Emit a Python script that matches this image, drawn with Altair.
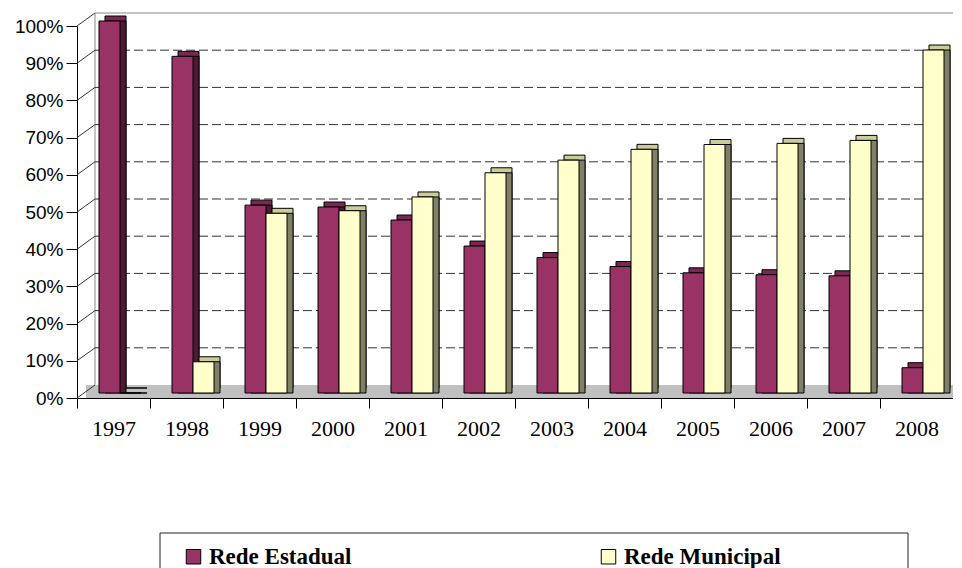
import altair as alt
import pandas as pd

years = ["1997", "1998", "1999", "2000", "2001", "2002", "2003", "2004", "2005", "2006", "2007", "2008"]
estadual = [1.00, 0.905, 0.505, 0.50, 0.465, 0.395, 0.364, 0.34, 0.323, 0.318, 0.315, 0.068]
municipal = [0.0, 0.084, 0.483, 0.49, 0.527, 0.592, 0.626, 0.655, 0.668, 0.671, 0.679, 0.922]
series = ["Rede Estadual", "Rede Municipal"]
yticks = [0, 0.1, 0.2, 0.3, 0.4, 0.5, 0.6, 0.7, 0.8, 0.9, 1.0]

front_colors = ["#993366", "#FFFFCC"]
top_colors = ["#7A2852", "#CCCC99"]
side_colors = ["#4D1A33", "#808066"]

W, H = 876, 372
DX, DY = 6, -5          # bar depth
BY = -5                 # bars sit mid-depth
WALL_X, WALL_Y = 18, -13

rows = []
for i, y in enumerate(years):
    rows.append({"year": y, "serie": series[0], "value": estadual[i]})
    rows.append({"year": y, "serie": series[1], "value": municipal[i]})
df = pd.DataFrame(rows)
tick_df = pd.DataFrame({"v": yticks})
grid_df = pd.DataFrame({"v": yticks[1:-1]})
top_df = pd.DataFrame({"v": [1.0]})
one = pd.DataFrame({"a": [0]})

xenc = alt.X("year:N", sort=years, title=None,
             scale=alt.Scale(paddingInner=0, paddingOuter=0),
             axis=alt.Axis(labelAngle=0, tickBand="extent", tickSize=10, labelPadding=10,
                           grid=False, domainColor="black", tickColor="black",
                           labelFont="Liberation Serif", labelFontSize=22))
yscale = alt.Scale(domain=[0, 1])
yaxis = alt.Axis(values=yticks, format=".0%", tickSize=11, labelPadding=3,
                 grid=False, domainColor="black", tickColor="black",
                 labelFont="Liberation Sans", labelFontSize=19)


def yq(field):
    return alt.Y(field, type="quantitative", scale=yscale, title=None, axis=yaxis)


floor = alt.Chart(one).mark_rect(color="#C0C0C0").encode(
    x=alt.value(9), x2=alt.value(W + 9), y=alt.value(H + WALL_Y), y2=alt.value(H))
wall_left = alt.Chart(one).mark_rule(color="#888888").encode(
    x=alt.value(WALL_X), y=alt.value(WALL_Y), y2=alt.value(H + WALL_Y))
wall_top = alt.Chart(top_df).mark_rule(color="#888888", yOffset=WALL_Y).encode(
    y=yq("v"), x=alt.value(WALL_X), x2=alt.value(W + 40))
grid = alt.Chart(grid_df).mark_rule(color="#333333", strokeDash=[9, 4], yOffset=WALL_Y).encode(
    y=yq("v"), x=alt.value(WALL_X), x2=alt.value(W + 40))
diag = alt.Chart(tick_df).mark_rule(color="#333333", y2Offset=WALL_Y).encode(
    y=yq("v"), y2="v:Q", x=alt.value(0), x2=alt.value(WALL_X))

legend = alt.Legend(title=None, orient="none", legendX=105, legendY=519, direction="horizontal",
                    symbolType="square", symbolSize=210, symbolStrokeColor="black",
                    symbolStrokeWidth=1, labelFont="Liberation Serif", labelFontWeight="bold",
                    labelFontSize=23, labelColor="black", columnPadding=245, labelOffset=4,
                    padding=0)
color_scale = alt.Scale(domain=series, range=front_colors)

offsets = [-4, 17]
layers = [floor, wall_left, wall_top, grid, diag]
for k in range(2):
    d = alt.Chart(df).transform_filter(alt.datum.serie == series[k])
    layers.append(d.mark_bar(width=21, xOffset=offsets[k] + DX, yOffset=BY + DY,
                             color=top_colors[k], stroke="black", strokeWidth=1)
                  .encode(x=xenc, y=yq("value")))
    layers.append(d.mark_bar(width=21, xOffset=offsets[k] + DX, yOffset=BY,
                             color=side_colors[k], stroke="black", strokeWidth=1)
                  .encode(x=xenc, y=yq("value")))
for k in range(2):
    d = alt.Chart(df).transform_filter(alt.datum.serie == series[k])
    layers.append(d.mark_bar(width=21, xOffset=offsets[k], yOffset=BY,
                             stroke="black", strokeWidth=1, opacity=1)
                  .encode(x=xenc, y=yq("value"),
                          color=alt.Color("serie:N", scale=color_scale, legend=legend)))

legend_box = alt.Chart(one).mark_rect(fill=None, stroke="#222222", strokeWidth=1).encode(
    x=alt.value(83), x2=alt.value(831), y=alt.value(507), y2=alt.value(700))
layers.append(legend_box)

chart = alt.layer(*layers).properties(
    width=W, height=H,
    autosize=alt.AutoSizeParams(type="none"),
    padding={"left": 69, "top": 18, "right": 0, "bottom": 172},
    background="white",
).configure_view(stroke=None)

chart.save("out.html", embed_options={"renderer": "svg", "actions": False})
